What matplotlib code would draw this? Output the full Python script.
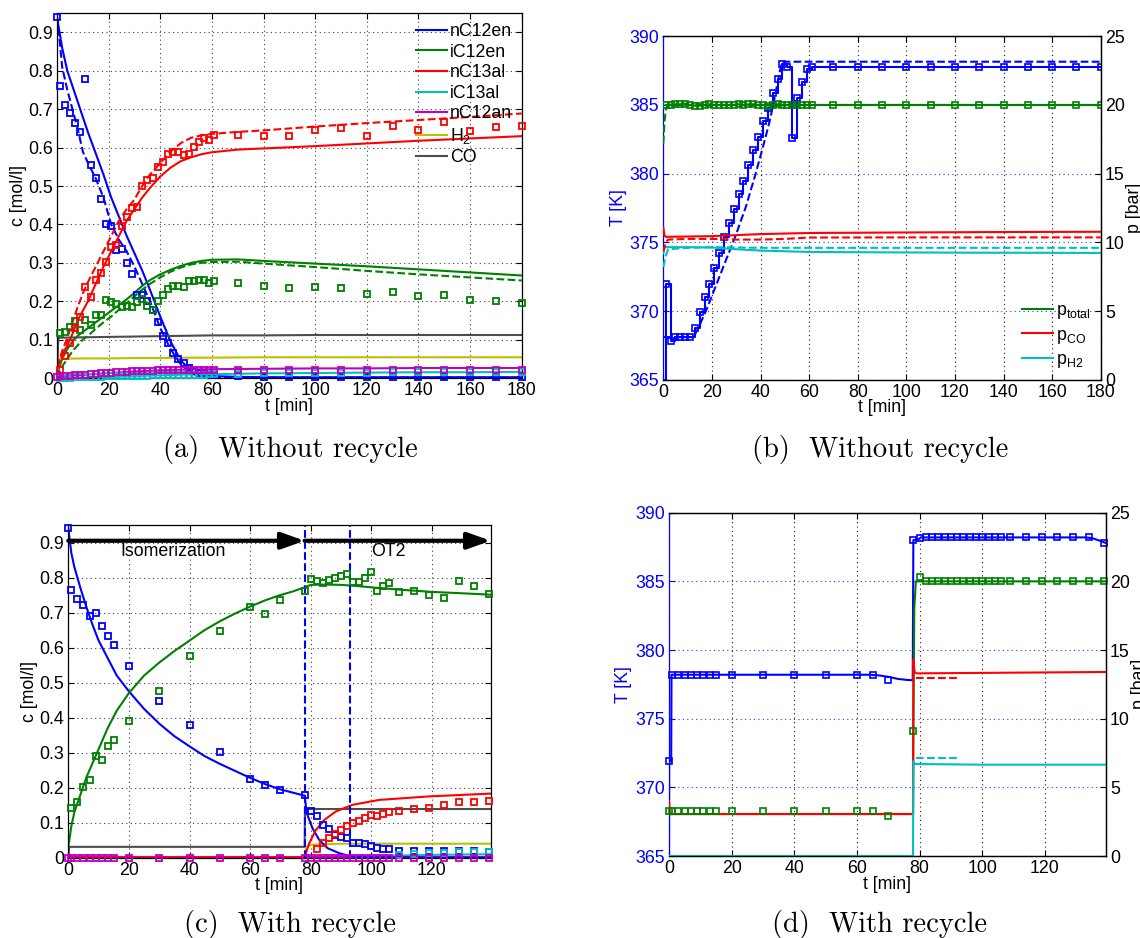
import matplotlib
matplotlib.use("Agg")
import matplotlib.pyplot as plt
from matplotlib.lines import Line2D

plt.rcParams['font.family'] = ['Liberation Sans', 'DejaVu Sans']
plt.rcParams['mathtext.default'] = 'regular'
plt.rcParams['font.size'] = 12.8

W, H = 1140, 938

# ---------------------------------------------------------------- colours
BLUE = (0, 0, 1)
GREEN = (0, 0.5, 0)
RED = (1, 0, 0)
CYAN = (0, 0.75, 0.75)
MAGENTA = (0.75, 0, 0.75)
YELLOW = (0.75, 0.75, 0)
GRAY = (0.3, 0.3, 0.3)

# ================================================================ (a) data
t_meas_a = [1, 3, 5, 7, 9, 11, 13, 15, 17, 19, 21, 23, 25, 27, 29, 31, 33, 35, 37, 39,
            41, 43, 45, 47, 49, 51, 53, 55, 57, 59, 61,
            70, 80, 90, 100, 110, 120, 130, 140, 150, 160, 170, 180]
nC12en_meas_a = [0.94, 0.76, 0.71, 0.69, 0.665, 0.64, 0.78, 0.555, 0.52, 0.465, 0.40,
                 0.395, 0.333, 0.335, 0.30, 0.27, 0.215, 0.215, 0.20, 0.177, 0.147,
                 0.11, 0.09, 0.065, 0.05, 0.038, 0.025, 0.018, 0.012, 0.01, 0.008, 0.007,
                 0.004, 0.003, 0.003, 0.003, 0.003, 0.003, 0.003, 0.003, 0.003, 0.003, 0.003, 0.003]
iC12en_meas_a = [0.117, 0.121, 0.133, 0.148, 0.124, 0.150, 0.137, 0.165, 0.165, 0.203,
                 0.198, 0.193, 0.185, 0.187, 0.184, 0.197, 0.205, 0.187, 0.176, 0.200,
                 0.217, 0.233, 0.240, 0.240, 0.237, 0.252, 0.252, 0.255, 0.255, 0.248, 0.253,
                 0.247, 0.240, 0.235, 0.236, 0.234, 0.220, 0.223, 0.214, 0.215, 0.203, 0.201, 0.196]
nC13al_meas_a = [0.02, 0.058, 0.092, 0.129, 0.159, 0.238, 0.212, 0.255, 0.273, 0.301,
                 0.340, 0.346, 0.397, 0.420, 0.442, 0.446, 0.50, 0.516, 0.52, 0.55,
                 0.562, 0.584, 0.589, 0.589, 0.582, 0.583, 0.602, 0.615, 0.624, 0.62, 0.633,
                 0.633, 0.631, 0.631, 0.646, 0.650, 0.630, 0.656, 0.646, 0.667, 0.644, 0.654, 0.656]
iC13al_meas_a = [0.001, 0.001, 0.001, 0.002, 0.002, 0.002, 0.003, 0.003, 0.003, 0.004,
                 0.004, 0.004, 0.005, 0.005, 0.005, 0.006, 0.006, 0.006, 0.007, 0.007,
                 0.007, 0.008, 0.008, 0.008, 0.008, 0.009, 0.009, 0.009, 0.009, 0.010, 0.010,
                 0.011, 0.012, 0.013, 0.013, 0.014, 0.014, 0.015, 0.015, 0.015, 0.016, 0.016, 0.016]
nC12an_meas_a = [0.002, 0.004, 0.005, 0.006, 0.007, 0.008, 0.009, 0.010, 0.011, 0.012,
                 0.013, 0.014, 0.015, 0.016, 0.016, 0.017, 0.018, 0.018, 0.019, 0.019,
                 0.020, 0.020, 0.020, 0.021, 0.021, 0.021, 0.021, 0.022, 0.022, 0.022,
                 0.022, 0.022,
                 0.022, 0.022, 0.022, 0.022, 0.022, 0.022, 0.022, 0.022, 0.022, 0.022, 0.022, 0.022]

t_sim_a = [0, 1, 2, 4, 6, 8, 10, 12, 15, 18, 21, 24, 27, 30, 33, 36, 40, 44, 48, 52,
           56, 60, 70, 80, 100, 120, 140, 160, 180]
nC12en_sim_a = [0.94, 0.90, 0.86, 0.80, 0.76, 0.72, 0.68, 0.64, 0.585, 0.53, 0.47, 0.42,
                0.37, 0.325, 0.28, 0.23, 0.16, 0.095, 0.045, 0.018, 0.008, 0.005, 0.003,
                0.002, 0.002, 0.002, 0.002, 0.002, 0.002]
nC12en_sim2_a = [0.94, 0.88, 0.81, 0.75, 0.70, 0.65, 0.59, 0.56, 0.52, 0.47, 0.40, 0.36,
                 0.33, 0.29, 0.245, 0.20, 0.13, 0.075, 0.035, 0.012, 0.005, 0.003, 0.002,
                 0.001, 0.001, 0.001, 0.001, 0.001, 0.001]
iC12en_sim_a = [0.0, 0.03, 0.05, 0.075, 0.095, 0.11, 0.12, 0.13, 0.145, 0.16, 0.175, 0.19,
                0.205, 0.222, 0.24, 0.255, 0.27, 0.282, 0.292, 0.30, 0.305, 0.308, 0.309,
                0.305, 0.298, 0.291, 0.283, 0.275, 0.267]
iC12en_sim2_a = [0.0, 0.015, 0.03, 0.05, 0.07, 0.085, 0.10, 0.11, 0.128, 0.145, 0.16, 0.178,
                 0.195, 0.213, 0.23, 0.245, 0.262, 0.277, 0.288, 0.296, 0.30, 0.302, 0.303,
                 0.298, 0.289, 0.279, 0.27, 0.262, 0.254]
nC13al_sim_a = [0.0, 0.04, 0.06, 0.085, 0.115, 0.15, 0.175, 0.20, 0.245, 0.29, 0.33, 0.37,
                0.41, 0.44, 0.47, 0.495, 0.525, 0.548, 0.565, 0.575, 0.583, 0.588, 0.595,
                0.598, 0.604, 0.611, 0.618, 0.624, 0.63]
nC13al_sim2_a = [0.0, 0.05, 0.07, 0.105, 0.145, 0.185, 0.22, 0.25, 0.29, 0.33, 0.37, 0.41,
                 0.44, 0.465, 0.50, 0.53, 0.56, 0.59, 0.612, 0.626, 0.632, 0.636, 0.641,
                 0.645, 0.655, 0.664, 0.672, 0.68, 0.689]

t_gas_a = [0, 0.5, 1, 10, 20, 30, 40, 50, 60, 80, 100, 120, 140, 160, 180]
H2_sim_a = [0.0, 0.03, 0.05, 0.051, 0.051, 0.052, 0.052, 0.053, 0.053, 0.054, 0.054, 0.054,
            0.054, 0.054, 0.054]
CO_sim_a = [0.0, 0.105, 0.105, 0.106, 0.107, 0.108, 0.109, 0.110, 0.111, 0.111, 0.112, 0.112,
            0.112, 0.112, 0.112]
iC13al_sim_a = [0.0, 0.0, 0.0, 0.001, 0.003, 0.005, 0.007, 0.009, 0.010, 0.012, 0.013, 0.014,
                0.015, 0.015, 0.016]
nC12an_sim_a = [0.003, 0.004, 0.005, 0.008, 0.013, 0.017, 0.020, 0.022, 0.023, 0.024, 0.025,
                0.025, 0.026, 0.026, 0.026]

legend_a = ['nC12en', 'iC12en', 'nC13al', 'iC13al', 'nC12an', 'H$_2$', 'CO']

# ================================================================ (b) data
T_meas_b = [365.0, 372.0, 367.8, 368.1, 368.1, 368.1, 368.1, 368.74, 369.9, 371.0, 372.0,
            373.1, 374.2, 375.4, 376.4, 377.4, 378.5, 379.5, 380.6, 381.7, 382.7,
            383.8, 384.8, 385.9, 386.9, 388.0, 387.8, 382.6, 385.5, 386.7, 387.6, 387.8,
            387.8, 387.8, 387.8, 387.8, 387.8, 387.8, 387.8, 387.8, 387.8, 387.8, 387.8, 387.8]
p_total_meas_b = [20.0, 20.0, 20.05, 20.05, 20.1, 20.0, 19.95, 19.95, 20.0, 20.05, 20.0,
                  20.0, 20.0, 20.0, 20.0, 20.05, 20.0, 20.05, 20.05, 20.0, 20.0, 19.95,
                  20.0, 20.05, 20.0, 20.0, 20.0, 20.0, 20.0, 20.0, 20.0,
                  20.0, 20.0, 20.0, 20.0, 20.0, 20.0, 20.0, 20.0, 20.0, 20.0, 20.0, 20.0]
t_Tsim_b = [0, 12, 13, 14, 16, 18, 20, 22, 24, 26, 28, 30, 32, 34, 36, 38, 40, 42, 44, 46,
            48, 49, 180]
T_sim_b = [368.1, 368.1, 368.3, 368.6, 369.4, 370.2, 371.1, 372.0, 372.9, 373.8, 374.7,
           375.6, 376.6, 377.6, 378.8, 380.0, 381.3, 382.6, 384.0, 385.7, 387.5, 388.15, 388.15]
t_ptot_sim_b = [0, 0.5, 1, 1.5, 2, 180]
p_total_sim_b = [17.2, 18.8, 19.6, 19.9, 20.0, 20.0]
t_pco_b = [0, 0.5, 1, 20, 40, 60, 100, 140, 180]
p_CO_b = [11.1, 10.5, 10.4, 10.45, 10.6, 10.68, 10.72, 10.75, 10.77]
t_pco_sim_b = [0, 1, 2, 10, 20, 30, 40, 50, 60, 100, 180]
p_CO_sim_b = [9.3, 10.0, 10.2, 10.25, 10.25, 10.2, 10.2, 10.25, 10.35, 10.36, 10.36]
t_ph2_b = [0, 0.5, 1, 10, 20, 30, 40, 50, 60, 80, 120, 180]
p_H2_b = [9.2, 9.6, 9.65, 9.65, 9.62, 9.5, 9.4, 9.35, 9.3, 9.28, 9.25, 9.23]
t_ph2_sim_b = [0, 1, 2, 10, 20, 40, 60, 180]
p_H2_sim_b = [8.2, 9.0, 9.5, 9.6, 9.65, 9.6, 9.6, 9.6]

# ================================================================ (c) data
t_meas_rec = [0, 1, 3, 5, 7, 9, 11, 13, 15, 20, 30, 40, 50, 60, 65, 70, 78,
              80, 82, 84, 86, 88, 90, 92, 94, 96, 98, 100, 102, 104, 106,
              109, 114, 119, 124, 129, 134, 139]
nC12en_meas_c = [0.942, 0.764, 0.740, 0.722, 0.691, 0.700, 0.662, 0.632, 0.607, 0.546,
                 0.447, 0.380, 0.302, 0.225, 0.208, 0.192, 0.18,
                 0.134, 0.120, 0.094, 0.081, 0.065, 0.060, 0.056, 0.043, 0.041, 0.038,
                 0.034, 0.027, 0.024, 0.024,
                 0.020, 0.020, 0.019, 0.019, 0.019, 0.018, 0.017]
iC12en_meas_c = [0.141, 0.16, 0.202, 0.221, 0.291, 0.280, 0.32, 0.335, 0.391, 0.477, 0.576,
                 0.646, 0.716, 0.697, 0.735, 0.762,
                 0.796, 0.789, 0.784, 0.794, 0.799, 0.803, 0.81, 0.788, 0.788, 0.798, 0.817,
                 0.761, 0.775, 0.783,
                 0.758, 0.761, 0.751, 0.741, 0.791, 0.777, 0.753]
nC13al_meas_c = [0.024, 0.041, 0.056, 0.068, 0.078, 0.091, 0.099, 0.106, 0.112, 0.122,
                 0.119, 0.126, 0.131,
                 0.132, 0.138, 0.143, 0.15, 0.158, 0.158, 0.161]
iC13al_meas_c = [0.008, 0.010, 0.012, 0.014, 0.015, 0.017, 0.017]
nC12an_meas_c = [0.0, 0.0, 0.0, 0.0, 0.0, 0.0, 0.0, 0.0, 0.0, 0.0, 0.0, 0.0, 0.0, 0.0,
                 0.0, 0.0, 0.0, 0.0, 0.0, 0.0, 0.0, 0.0, 0.0, 0.0, 0.0, 0.0, 0.0, 0.0,
                 0.0, 0.0, 0.0, 0.0, 0.0, 0.0, 0.0, 0.0, 0.0, 0.0]

t_sim_c = [0, 1, 2, 4, 6, 8, 10, 13, 16, 20, 25, 30, 35, 40, 45, 50, 55, 60, 65, 70, 74, 78,
           78.7, 80.6, 82.8, 85.6, 89.4, 92.7, 96, 100, 139.4]
nC12en_sim_c = [0.94, 0.87, 0.83, 0.77, 0.715, 0.665, 0.62, 0.57, 0.52, 0.475, 0.425, 0.383,
                0.347, 0.318, 0.29, 0.268, 0.248, 0.228, 0.21, 0.195, 0.186, 0.177,
                0.127, 0.084, 0.051, 0.027, 0.013, 0.005, 0.002, 0.001, 0.0]
t_sim2_c = [0, 1, 2, 4, 6, 8, 10, 13, 16, 20, 25, 30, 35, 40, 45, 50, 55, 60, 65, 70, 74,
            78, 80, 85, 90, 95, 100, 110, 120, 130, 139.4]
iC12en_sim_c = [0.03, 0.09, 0.13, 0.18, 0.23, 0.27, 0.31, 0.37, 0.42, 0.47, 0.52, 0.557,
                0.59, 0.62, 0.65, 0.675, 0.697, 0.717, 0.735, 0.75, 0.76, 0.772, 0.779,
                0.78, 0.779, 0.776, 0.772, 0.765, 0.759, 0.755, 0.751]
t_red_c = [0, 78, 78.5, 79.5, 81.7, 84.5, 88.3, 93.8, 102.6, 119, 139.4]
nC13al_sim_c = [0.0, 0.0, 0.015, 0.041, 0.079, 0.108, 0.132, 0.151, 0.165, 0.175, 0.183]
t_minor_c = [0, 78, 85, 100, 120, 139.4]
iC13al_sim_c = [0.0, 0.0, 0.002, 0.005, 0.008, 0.01]
nC12an_sim_c = [0.001, 0.001, 0.001, 0.001, 0.001, 0.001]
t_h2_c = [0, 0.3, 78, 78.5, 80, 90, 139.4]
H2_sim_c = [0.0, 0.002, 0.002, 0.03, 0.037, 0.04, 0.04]
t_co_c = [0, 0.3, 78, 78.1, 139.4]
CO_sim_c = [0.0, 0.031, 0.031, 0.139, 0.139]

phase_switch_c = [78, 93]
phases_c = [(0, 78, 'Isomerization', 34.5), (78, 139.4, 'OT2', 105.5)]

# ================================================================ (d) data
T_meas_d = [371.9, 378.2, 378.2, 378.2, 378.2, 378.2, 378.2, 378.2, 378.2,
            378.2, 378.2, 378.2, 378.2, 378.2, 378.2, 377.8, 388.0,
            388.15, 388.25, 388.25, 388.25, 388.25, 388.25, 388.25, 388.25, 388.25,
            388.25, 388.25, 388.25, 388.25, 388.25,
            388.2, 388.2, 388.2, 388.2, 388.2, 388.2, 387.8]
p_total_meas_d = [3.28, 3.28, 3.28, 3.28, 3.28, 3.28, 3.28, 3.28, 3.28,
                  3.28, 3.28, 3.28, 3.28, 3.28, 3.28, 2.91, 9.1,
                  20.3, 20.03, 20.03, 20.03, 20.03, 20.03, 20.03, 20.03, 20.03,
                  20.03, 20.03, 20.03, 20.03, 20.03,
                  20.0, 20.0, 20.0, 20.0, 20.0, 20.0, 20.0]
t_T_d = [0, 0.05, 0.7, 0.8, 64, 67, 70, 73, 76, 77.8, 78.0, 79.5, 80.5, 133, 135, 137, 139.4]
T_line_d = [365.0, 371.9, 371.9, 378.2, 378.2, 378.15, 378.05, 377.9, 377.82, 377.8, 388.0,
            388.05, 388.2, 388.2, 388.15, 388.0, 387.8]
t_ptot_d = [0, 77.9, 78.0, 78.3, 78.8, 139.4]
p_total_d = [3.05, 3.05, 9.0, 18.0, 20.0, 20.0]
t_pco_d = [0, 0.3, 77.9, 78.0, 78.4, 79, 139.4]
p_CO_d = [4.0, 3.06, 3.06, 14.3, 13.4, 13.3, 13.4]
t_ph2_d = [0, 77.9, 78.0, 78.5, 100, 139.4]
p_H2_d = [0.0, 0.0, 6.9, 6.7, 6.65, 6.65]
t_psim_d = [79, 93]
p_CO_sim_d = [12.94, 12.94]
p_H2_sim_d = [7.12, 7.12]

captions = ['(a)  Without recycle', '(b)  Without recycle',
            '(c)  With recycle', '(d)  With recycle']

# ================================================================ styling helpers
LW = 1.5
DOT = (0, (1, 3))


def rect(left, top, right, bottom):
    return [left / W, 1 - bottom / H, (right - left) / W, (bottom - top) / H]


def squares(ax, t, y, color, ms=4.6):
    ax.plot(t, y, 's', mfc='none', mec=color, ms=ms, mew=1.3, clip_on=False, zorder=3)


def conc_axes(ax, xmax, xticks):
    ax.set_xlim(0, xmax)
    ax.set_ylim(0, 0.95)
    ax.set_xticks(xticks)
    yt = [0, 0.1, 0.2, 0.3, 0.4, 0.5, 0.6, 0.7, 0.8, 0.9]
    ax.set_yticks(yt)
    ax.set_yticklabels(['0'] + ['%.1f' % v for v in yt[1:]])
    ax.tick_params(direction='in', length=4, top=True, right=True, width=0.8, pad=3)
    ax.grid(True, ls=DOT, color='0.25', lw=0.8)
    ax.set_axisbelow(True)
    for s in ax.spines.values():
        s.set_linewidth(0.9)
    ax.set_xlabel('t [min]', labelpad=-1)
    ax.set_ylabel('c [mol/l]', labelpad=1)


def temp_axes(ax, ax2, xmax, xticks):
    ax.set_xlim(0, xmax)
    ax.set_ylim(365, 390)
    ax2.set_ylim(0, 25)
    ax.set_xticks(xticks)
    ax.set_yticks([365, 370, 375, 380, 385, 390])
    ax2.set_yticks([0, 5, 10, 15, 20, 25])
    ax.tick_params(axis='x', direction='in', length=4, top=True, width=0.8, pad=3)
    ax.tick_params(axis='y', direction='in', length=4, colors=BLUE, width=0.8, pad=3)
    ax2.tick_params(axis='y', direction='in', length=4, colors='k', width=0.8, pad=3)
    ax.grid(True, axis='x', ls=DOT, color='0.1', lw=0.8)
    ax.grid(True, axis='y', ls=DOT, color=(0.2, 0.2, 1.0), lw=0.8)
    ax.set_axisbelow(True)
    ax.spines['left'].set_color(BLUE)
    ax2.spines['left'].set_visible(False)
    for s in list(ax.spines.values()) + list(ax2.spines.values()):
        s.set_linewidth(0.9)
    ax.set_xlabel('t [min]', labelpad=-1)
    ax.set_ylabel('T [K]', color=BLUE, labelpad=2)
    ax2.set_ylabel('p [bar]', labelpad=1)


fig = plt.figure(figsize=(W / 100, H / 100), dpi=100)

# ================================================================ (a)
ax = fig.add_axes(rect(57, 13.3, 521.7, 378))
conc_axes(ax, 180, [0, 20, 40, 60, 80, 100, 120, 140, 160, 180])
ax.plot(t_sim_a, nC12en_sim_a, color=BLUE, lw=LW, label=legend_a[0])
ax.plot(t_sim_a, iC12en_sim_a, color=GREEN, lw=LW, label=legend_a[1])
ax.plot(t_sim_a, nC13al_sim_a, color=RED, lw=LW, label=legend_a[2])
ax.plot(t_gas_a, iC13al_sim_a, color=CYAN, lw=LW, label=legend_a[3])
ax.plot(t_gas_a, nC12an_sim_a, color=MAGENTA, lw=LW, label=legend_a[4])
ax.plot(t_gas_a, H2_sim_a, color=YELLOW, lw=LW, label=legend_a[5])
ax.plot(t_gas_a, CO_sim_a, color=GRAY, lw=LW, label=legend_a[6])
ax.plot(t_sim_a, nC12en_sim2_a, '--', color=BLUE, lw=LW)
ax.plot(t_sim_a, iC12en_sim2_a, '--', color=GREEN, lw=LW)
ax.plot(t_sim_a, nC13al_sim2_a, '--', color=RED, lw=LW)
squares(ax, [0] + t_meas_a, nC12en_meas_a, BLUE)
squares(ax, t_meas_a, iC12en_meas_a, GREEN)
squares(ax, t_meas_a, nC13al_meas_a, RED)
squares(ax, t_meas_a, iC13al_meas_a, CYAN)
squares(ax, [0] + t_meas_a, nC12an_meas_a, MAGENTA)
ax.legend(loc='upper right', frameon=False, borderaxespad=0.15, handlelength=1.75,
          handletextpad=0.15, labelspacing=0.2, borderpad=0.4)

# ================================================================ (b)
ax = fig.add_axes(rect(663.3, 36.3, 1100.7, 379.7))
ax2 = ax.twinx()
temp_axes(ax, ax2, 180, [0, 20, 40, 60, 80, 100, 120, 140, 160, 180])
ax.plot([0] + t_meas_a, T_meas_b, color=BLUE, lw=LW, drawstyle='steps-post',
        marker='s', mfc='none', mec=BLUE, ms=4, mew=1.2, markevery=slice(1, None))
ax.plot(t_Tsim_b, T_sim_b, '--', color=BLUE, lw=LW)
ax2.plot(t_meas_a, p_total_meas_b, color=GREEN, lw=LW, marker='s', mfc='none',
         mec=GREEN, ms=4, mew=1.2)
ax2.plot(t_pco_b, p_CO_b, color=RED, lw=LW)
ax2.plot(t_ph2_b, p_H2_b, color=CYAN, lw=LW)
ax2.plot(t_ptot_sim_b, p_total_sim_b, '--', color=GREEN, lw=LW)
ax2.plot(t_pco_sim_b, p_CO_sim_b, '--', color=RED, lw=LW)
ax2.plot(t_ph2_sim_b, p_H2_sim_b, '--', color=CYAN, lw=LW)
hb = [Line2D([], [], color=c, lw=LW) for c in (GREEN, RED, CYAN)]
ax2.legend(hb, ['$p_{total}$', '$p_{CO}$', '$p_{H2}$'], loc='lower right', frameon=False,
           borderaxespad=0.15, handlelength=1.75, handletextpad=0.15, labelspacing=0.3)

# ================================================================ (c)
ax = fig.add_axes(rect(68.3, 525, 490.7, 857.7))
conc_axes(ax, 139.4, [0, 20, 40, 60, 80, 100, 120])
ax.plot(t_co_c, CO_sim_c, color=GRAY, lw=LW)
ax.plot(t_h2_c, H2_sim_c, color=YELLOW, lw=LW)
ax.plot(t_minor_c, iC13al_sim_c, color=CYAN, lw=LW)
ax.plot(t_minor_c, nC12an_sim_c, color=MAGENTA, lw=LW)
ax.plot(t_sim_c, nC12en_sim_c, color=BLUE, lw=LW)
ax.plot(t_sim2_c, iC12en_sim_c, color=GREEN, lw=LW)
ax.plot(t_red_c, nC13al_sim_c, color=RED, lw=LW)
for ts in phase_switch_c:
    ax.axvline(ts, color=BLUE, ls='--', lw=LW)
squares(ax, t_meas_rec, nC12en_meas_c, BLUE, ms=4.2)
squares(ax, t_meas_rec[1:], iC12en_meas_c, GREEN, ms=4.2)
squares(ax, t_meas_rec[18:], nC13al_meas_c, RED, ms=4.2)
squares(ax, t_meas_rec[31:], iC13al_meas_c, CYAN, ms=4.2)
squares(ax, t_meas_rec, nC12an_meas_c, MAGENTA, ms=4.2)
for t0, t1, name, tx in phases_c:
    ax.annotate('', xy=(t1, 0.905), xytext=(t0, 0.905),
                arrowprops=dict(arrowstyle='-|>,head_length=1.4,head_width=0.5',
                                lw=3, color='k', shrinkA=0, shrinkB=0, mutation_scale=10),
                annotation_clip=False, zorder=5)
    ax.text(tx, 0.874, name, ha='center', va='center')

# ================================================================ (d)
ax = fig.add_axes(rect(669, 512.7, 1105.7, 856))
ax2 = ax.twinx()
temp_axes(ax, ax2, 139.4, [0, 20, 40, 60, 80, 100, 120])
ax.plot(t_T_d, T_line_d, color=BLUE, lw=LW)
ax.plot(t_meas_rec, T_meas_d, 's', mfc='none', mec=BLUE, ms=4, mew=1.2, clip_on=False)
ax2.plot(t_ptot_d, p_total_d, color=GREEN, lw=LW)
ax2.plot(t_pco_d, p_CO_d, color=RED, lw=LW)
ax2.plot(t_ph2_d, p_H2_d, color=CYAN, lw=LW)
ax2.plot(t_psim_d, p_CO_sim_d, '--', color=RED, lw=LW)
ax2.plot(t_psim_d, p_H2_sim_d, '--', color=CYAN, lw=LW)
ax2.plot(t_meas_rec, p_total_meas_d, 's', mfc='none', mec=GREEN, ms=4, mew=1.2, clip_on=False)

# ================================================================ captions
for (x, y), cap in zip([(290, 449), (880, 449), (290, 924), (880, 924)], captions):
    fig.text(x / W, 1 - y / H, cap, ha='center', va='center', family='cmr10', fontsize=20.5)

fig.savefig('out.png', dpi=100, facecolor='white')
